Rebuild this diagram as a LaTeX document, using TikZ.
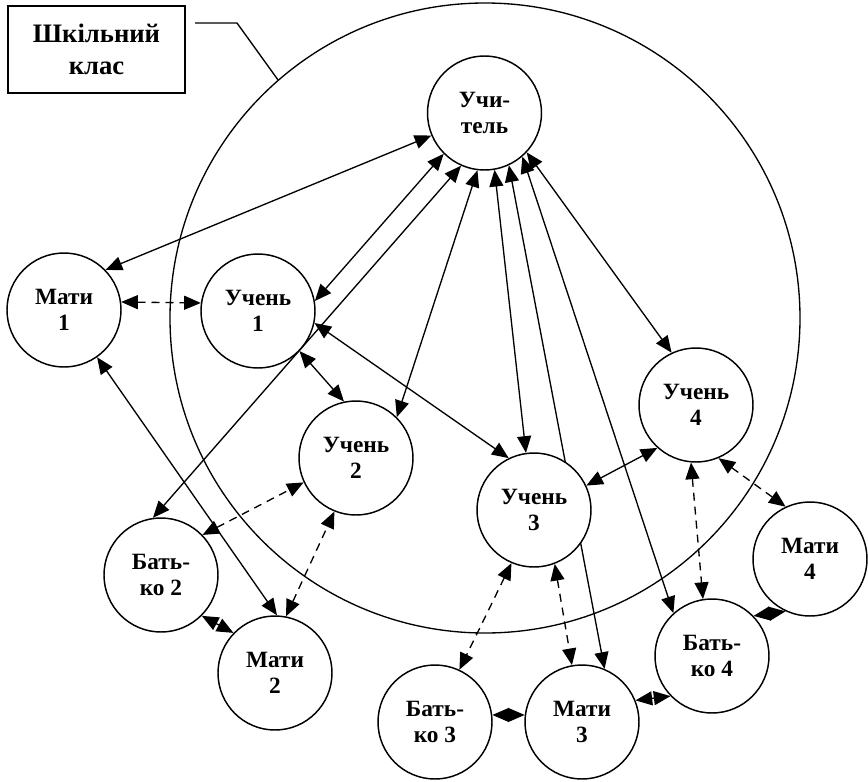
\documentclass[tikz,border=0pt]{standalone}
\usepackage{fontspec}
\setmainfont{Liberation Serif}
\usetikzlibrary{arrows.meta}
\pgfdeclarelayer{bg}
\pgfsetlayers{bg,main}
\begin{document}
\begin{tikzpicture}[x=0.75pt,y=-0.75pt,
  txt/.style={align=center,font=\bfseries\fontsize{17.5}{20}\selectfont},
  pers/.style={txt,circle,draw,fill=white,line width=1.1pt,minimum size=85.5pt,inner sep=0pt},
  link/.style={line width=1pt,{Triangle[length=12.5pt,width=10.5pt]}-{Triangle[length=12.5pt,width=10.5pt]}},
  dlink/.style={link,dash pattern=on 6pt off 4.5pt}]
\useasboundingbox (0,0) rectangle (868,782);

% label box and class circle
\node[align=center,font=\bfseries\fontsize{20}{24}\selectfont,draw,line width=1.1pt,minimum width=132.75pt,minimum height=65.25pt,inner sep=0pt] (lbl) at (96.5,49.5) {Шкільний\\клас};
\node[circle,draw,line width=1pt,minimum size=472.5pt,inner sep=0pt] (klas) at (485,318) {};
\coordinate (lead) at (195,23);
\coordinate (bend) at (237,23);
\draw[line width=1pt] (lead) -- (bend) -- (klas.131);

% persons
\node[pers] (T)  at (484.5,113) {Учи-\\тель};
\node[pers] (M1) at (64,310)  {Мати\\1};
\node[pers] (U1) at (258,311) {Учень\\1};
\node[pers] (U2) at (356,458) {Учень\\2};
\node[pers] (U3) at (534,510) {Учень\\3};
\node[pers] (U4) at (696,405) {Учень\\4};
\node[pers] (M4) at (810,559) {Мати\\4};
\node[pers] (B4) at (712,656) {Бать-\\ко 4};
\node[pers] (M3) at (582,722) {Мати\\3};
\node[pers] (B3) at (435,722) {Бать-\\ко 3};
\node[pers] (B2) at (161,575) {Бать-\\ко 2};
\node[pers] (M2) at (275,673) {Мати\\2};

\begin{pgfonlayer}{bg}
\draw[link] (M1.44) -- (T.203);
\draw[dlink] (M1.8) -- (U1.172);
\draw[link] (U1.10) -- (T.225);
\draw[link] (B2.98) -- (T.246);
\draw[link] (T.263) -- (U2.45);
\draw[link] (T.280) -- (U3.98);
\draw[link] (T.295) -- (M3.67);
\draw[link] (T.311) -- (B4.132);
\draw[link] (T.317) -- (U4.115);
\draw[link] (U1.316) -- (U2.102);
\draw[link] (U1.348) -- (U3.116);
\draw[link] (M1.305) -- (M2.88);
\draw[dlink] (B2.44) -- (U2.205);
\draw[dlink] (M2.79) -- (U2.248);
\draw[link] (B2.315) -- (M2.136);
\draw[link] (U3.25) -- (U4.228);
\draw[dlink] (U3.247) -- (B3.65);
\draw[dlink] (U3.291) -- (M3.100);
\draw[link] (B3.7) -- (M3.173);
\draw[link] (M3.22) -- (B4.224);
\draw[link] (B4.44) -- (M4.245);
\draw[dlink] (U4.293) -- (M4.115);
\draw[dlink] (U4.265) -- (B4.99);
\end{pgfonlayer}
\end{tikzpicture}
\end{document}
